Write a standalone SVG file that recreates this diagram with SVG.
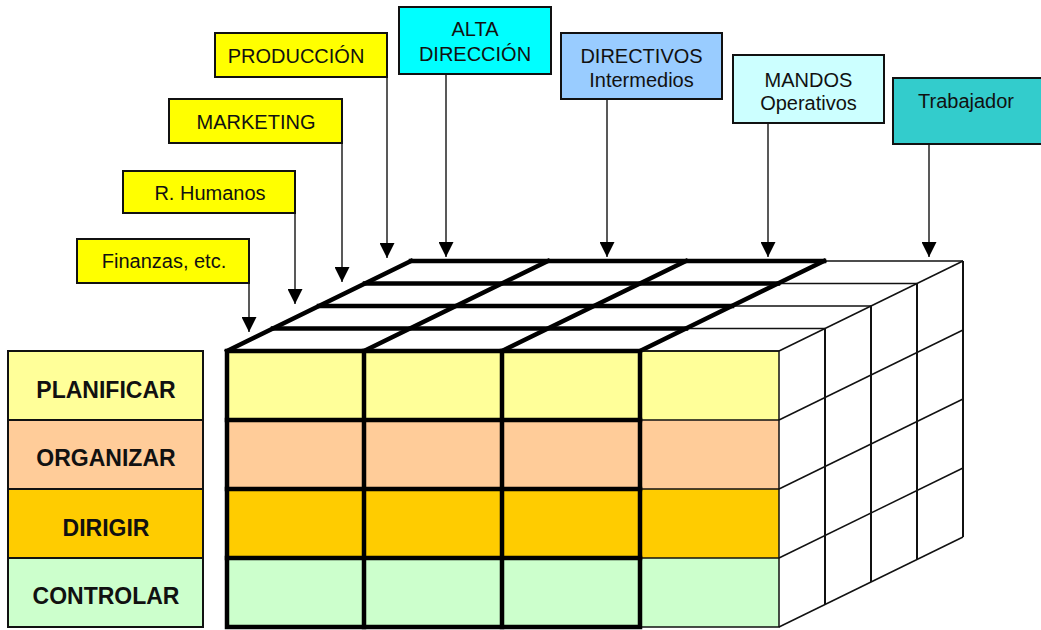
<svg xmlns="http://www.w3.org/2000/svg" width="1041" height="630" viewBox="0 0 1041 630">
  <defs>
    <marker id="ah" markerUnits="userSpaceOnUse" markerWidth="15" markerHeight="15" refX="15" refY="7.5" orient="auto">
      <path d="M0,0 L15,7.5 L0,15 Z" fill="#000"/>
    </marker>
    <style>
      .lbl { stroke: #111; stroke-width: 2; }
      .t { font-family: "Liberation Sans", Arial, sans-serif; font-size: 20px; fill: #111; text-anchor: middle; }
      .b { font-family: "Liberation Sans", Arial, sans-serif; font-size: 23px; font-weight: bold; fill: #111; text-anchor: middle; }
      .conn { stroke: #222; stroke-width: 1.5; fill: none; marker-end: url(#ah); }
      .thick { stroke: #000; stroke-width: 4.5; fill: none; stroke-linecap: square; }
      .thin { stroke: #111; stroke-width: 1.5; fill: none; }
      .mid { stroke: #111; stroke-width: 2; fill: none; }
      .row1 { fill: #FFFF99; }
      .row2 { fill: #FFCC99; }
      .row3 { fill: #FFCC00; }
      .row4 { fill: #CCFFCC; }
    </style>
  </defs>
  <rect width="1041" height="630" fill="#fff"/>

  <!-- Cube -->
  <g id="cube">
    <!-- front face fills -->
    <g id="front-fills">
      <rect class="row1" x="227" y="351" width="552" height="69"/>
      <rect class="row2" x="227" y="420" width="552" height="69"/>
      <rect class="row3" x="227" y="489" width="552" height="69"/>
      <rect class="row4" x="227" y="558" width="552" height="69"/>
    </g>
    <!-- right face -->
    <g id="right-face">
      <line class="thin" x1="779" y1="420" x2="963" y2="330"/>
      <line class="thin" x1="779" y1="489" x2="963" y2="399"/>
      <line class="thin" x1="779" y1="558" x2="963" y2="468"/>
      <line class="thin" x1="779" y1="627" x2="963" y2="537"/>
      <line class="mid" x1="825" y1="328.5" x2="825" y2="604.5"/>
      <line class="mid" x1="871" y1="306" x2="871" y2="582"/>
      <line class="mid" x1="917" y1="283.5" x2="917" y2="559.5"/>
      <line class="mid" x1="963" y1="261" x2="963" y2="537"/>
    </g>
    <!-- top face -->
    <g id="top-face">
      <line class="thin" x1="640" y1="351" x2="779" y2="351"/>
      <line class="thin" x1="686" y1="328.5" x2="825" y2="328.5"/>
      <line class="thin" x1="732" y1="306" x2="871" y2="306"/>
      <line class="thin" x1="778" y1="283.5" x2="917" y2="283.5"/>
      <line class="thin" x1="824" y1="261" x2="963" y2="261"/>
      <line class="thin" x1="779" y1="351" x2="963" y2="261"/>
      <line class="thick" x1="273" y1="328.5" x2="686" y2="328.5"/>
      <line class="thick" x1="319" y1="306" x2="732" y2="306"/>
      <line class="thick" x1="365" y1="283.5" x2="778" y2="283.5"/>
      <line class="thick" x1="411" y1="261" x2="824" y2="261"/>
      <line class="thick" x1="227" y1="351" x2="411" y2="261"/>
      <line class="thick" x1="364" y1="351" x2="548" y2="261"/>
      <line class="thick" x1="502" y1="351" x2="686" y2="261"/>
      <line class="thick" x1="640" y1="351" x2="824" y2="261"/>
    </g>
    <!-- front face grid -->
    <g id="front-grid">
      <rect class="thin" x="640" y="351" width="139" height="276"/>
      <line class="thin" x1="640" y1="420" x2="779" y2="420"/>
      <line class="thin" x1="640" y1="489" x2="779" y2="489"/>
      <line class="thin" x1="640" y1="558" x2="779" y2="558"/>
      <rect class="thick" x="227" y="351" width="413" height="276" stroke-width="5"/>
      <line class="thick" x1="364" y1="351" x2="364" y2="627" stroke-width="5"/>
      <line class="thick" x1="502" y1="351" x2="502" y2="627" stroke-width="5"/>
      <line class="thick" x1="227" y1="420" x2="640" y2="420" stroke-width="5"/>
      <line class="thick" x1="227" y1="489" x2="640" y2="489" stroke-width="5"/>
      <line class="thick" x1="227" y1="558" x2="640" y2="558" stroke-width="5"/>
    </g>
  </g>

  <!-- Row labels -->
  <g id="planificar">
    <rect class="lbl row1" x="8" y="351" width="195" height="69"/>
    <text class="b" x="106" y="398">PLANIFICAR</text>
  </g>
  <g id="organizar">
    <rect class="lbl row2" x="8" y="420" width="195" height="69"/>
    <text class="b" x="106" y="466">ORGANIZAR</text>
  </g>
  <g id="dirigir">
    <rect class="lbl row3" x="8" y="489" width="195" height="69"/>
    <text class="b" x="106" y="536">DIRIGIR</text>
  </g>
  <g id="controlar">
    <rect class="lbl row4" x="8" y="558" width="195" height="69"/>
    <text class="b" x="106" y="604">CONTROLAR</text>
  </g>

  <!-- Connectors -->
  <g id="connectors">
    <line class="conn" x1="249" y1="283" x2="249" y2="332"/>
    <line class="conn" x1="295" y1="213" x2="295" y2="304"/>
    <line class="conn" x1="342" y1="143" x2="342" y2="282"/>
    <line class="conn" x1="387" y1="77" x2="387" y2="258"/>
    <line class="conn" x1="446" y1="74" x2="446" y2="257"/>
    <line class="conn" x1="607" y1="99" x2="607" y2="257"/>
    <line class="conn" x1="768" y1="123" x2="768" y2="257"/>
    <line class="conn" x1="929" y1="144" x2="929" y2="257"/>
  </g>

  <!-- Top labels -->
  <g id="finanzas">
    <rect class="lbl" x="77" y="239" width="172" height="44" fill="#FFFF00"/>
    <text class="t" x="164" y="268">Finanzas, etc.</text>
  </g>
  <g id="rhumanos">
    <rect class="lbl" x="123" y="171" width="172" height="42" fill="#FFFF00"/>
    <text class="t" x="210" y="200">R. Humanos</text>
  </g>
  <g id="marketing">
    <rect class="lbl" x="169" y="99" width="173" height="44" fill="#FFFF00"/>
    <text class="t" x="256" y="129">MARKETING</text>
  </g>
  <g id="produccion">
    <rect class="lbl" x="215" y="33" width="172" height="44" fill="#FFFF00"/>
    <text class="t" x="296" y="63">PRODUCCIÓN</text>
  </g>
  <g id="alta-direccion">
    <rect class="lbl" x="399" y="7" width="152" height="67" fill="#00FFFF"/>
    <text class="t" x="475" y="36">ALTA</text>
    <text class="t" x="475" y="61">DIRECCIÓN</text>
  </g>
  <g id="directivos">
    <rect class="lbl" x="561" y="33" width="161" height="66" fill="#99CCFF"/>
    <text class="t" x="641.5" y="63">DIRECTIVOS</text>
    <text class="t" x="641.5" y="87">Intermedios</text>
  </g>
  <g id="mandos">
    <rect class="lbl" x="733" y="55" width="151" height="68" fill="#CCFFFF"/>
    <text class="t" x="808.5" y="87">MANDOS</text>
    <text class="t" x="808.5" y="110">Operativos</text>
  </g>
  <g id="trabajador">
    <rect class="lbl" x="893" y="78" width="160" height="66" fill="#33CCCC"/>
    <text class="t" x="966" y="108">Trabajador</text>
  </g>
</svg>
